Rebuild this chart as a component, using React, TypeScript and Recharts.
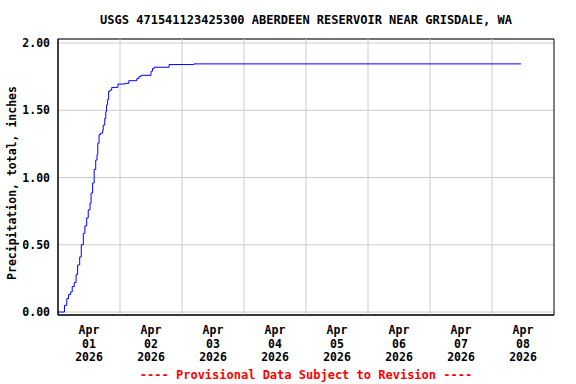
import React from 'react';
import { ComposedChart, Line, XAxis, YAxis, CartesianGrid, ReferenceLine, ReferenceArea } from 'recharts';

// hours since 2026-04-01 00:00
const times = [0, 2.5, 3.4, 4.1, 4.9, 5.5, 6.3, 7.0, 7.6, 8.4, 9.0, 9.8, 10.4, 11.1, 11.7, 12.4, 12.8, 13.4, 14.0, 14.6, 15.1, 15.4, 15.9, 16.5, 17.3, 17.5, 18.1, 18.5, 18.8, 19.2, 19.6, 20.1, 20.8, 23.2, 25.9, 27.4, 30.5, 31.3, 32.1, 36.0, 36.6, 37.2, 43.0, 52.6, 179.2];
const precip = [0, 0.05, 0.10, 0.13, 0.15, 0.19, 0.22, 0.28, 0.35, 0.41, 0.50, 0.585, 0.64, 0.70, 0.76, 0.81, 0.885, 0.96, 1.06, 1.13, 1.17, 1.255, 1.32, 1.33, 1.35, 1.39, 1.44, 1.49, 1.54, 1.58, 1.64, 1.65, 1.67, 1.695, 1.70, 1.72, 1.735, 1.75, 1.76, 1.79, 1.81, 1.82, 1.84, 1.845, 1.845];

const dayLabels = ['01', '02', '03', '04', '05', '06', '07', '08'];
const monthLabel = 'Apr';
const yearLabel = '2026';
const labelTicks = [12, 36, 60, 84, 108, 132, 156, 180];
const gridTicks = [24, 48, 72, 96, 120, 144, 168];
const yTicks = [0, 0.5, 1, 1.5, 2];
const xDomain = [0, 192];
const yDomain = [-0.022, 2.03];

const title = 'USGS 471541123425300 ABERDEEN RESERVOIR NEAR GRISDALE, WA';
const yTitle = 'Precipitation, total, inches';
const footer = '---- Provisional Data Subject to Revision ----';

const data = times.map((t, i) => ({ t, v: precip[i] }));

const FONT = '"DejaVu Sans Mono", "Liberation Mono", monospace';

const DateTick = (props: any) => {
  const { x, y, payload } = props;
  const idx = labelTicks.indexOf(payload.value);
  const day = dayLabels[idx] ?? '';
  return (
    <g>
      <text x={x} y={y + 19} textAnchor="middle" fontFamily={FONT} fontWeight="bold" fontSize={11.5} fill="#000">{monthLabel}</text>
      <text x={x} y={y + 33} textAnchor="middle" fontFamily={FONT} fontWeight="bold" fontSize={11.5} fill="#000">{day}</text>
      <text x={x} y={y + 46} textAnchor="middle" fontFamily={FONT} fontWeight="bold" fontSize={11.5} fill="#000">{yearLabel}</text>
    </g>
  );
};

export default function App() {
  return (
    <div style={{ position: 'absolute', left: 0, top: 0, width: 576, height: 384, background: '#fff' }}>
      <div style={{ position: 'absolute', left: 306, top: 20, transform: 'translate(-50%,-50%)', whiteSpace: 'nowrap', fontFamily: FONT, fontWeight: 'bold', fontSize: 12, color: '#000' }}>{title}</div>
      <div style={{ position: 'absolute', left: 12, top: 183, transform: 'translate(-50%,-50%) rotate(-90deg)', whiteSpace: 'nowrap', fontFamily: FONT, fontWeight: 'bold', fontSize: 11.5, color: '#000' }}>{yTitle}</div>
      <div style={{ position: 'absolute', left: 306, top: 375, transform: 'translate(-50%,-50%)', whiteSpace: 'nowrap', fontFamily: FONT, fontWeight: 'bold', fontSize: 12, color: '#ff0000' }}>{footer}</div>
      <ComposedChart width={576} height={384} data={data} margin={{ top: 39, right: 22, left: 0, bottom: 0 }}>
        <CartesianGrid vertical={false} stroke="#cccccc" strokeWidth={1} />
        <XAxis dataKey="t" type="number" domain={xDomain} ticks={labelTicks} interval={0}
          height={69} tickSize={0} tickMargin={0} tickLine={false} axisLine={{ stroke: '#000' }} tick={<DateTick />} allowDataOverflow />
        <YAxis type="number" domain={yDomain} ticks={yTicks} interval={0} width={58}
          tickSize={0} tickMargin={8} tickLine={false} axisLine={{ stroke: '#000' }} allowDataOverflow
          tickFormatter={(v: number) => v.toFixed(2)}
          tick={{ fontFamily: FONT, fontWeight: 'bold', fontSize: 11.5, fill: '#000' }} />
        {gridTicks.map((g) => (
          <ReferenceLine key={g} x={g} stroke="#cccccc" strokeWidth={1} />
        ))}
        <ReferenceArea x1={xDomain[0]} x2={xDomain[1]} y1={yDomain[0]} y2={yDomain[1]} fill="none" fillOpacity={0} stroke="#000" strokeWidth={1} strokeOpacity={1} />
        <Line dataKey="v" type="stepAfter" stroke="#0000ff" strokeWidth={1}
          dot={false} activeDot={false} isAnimationActive={false} />
      </ComposedChart>
    </div>
  );
}
